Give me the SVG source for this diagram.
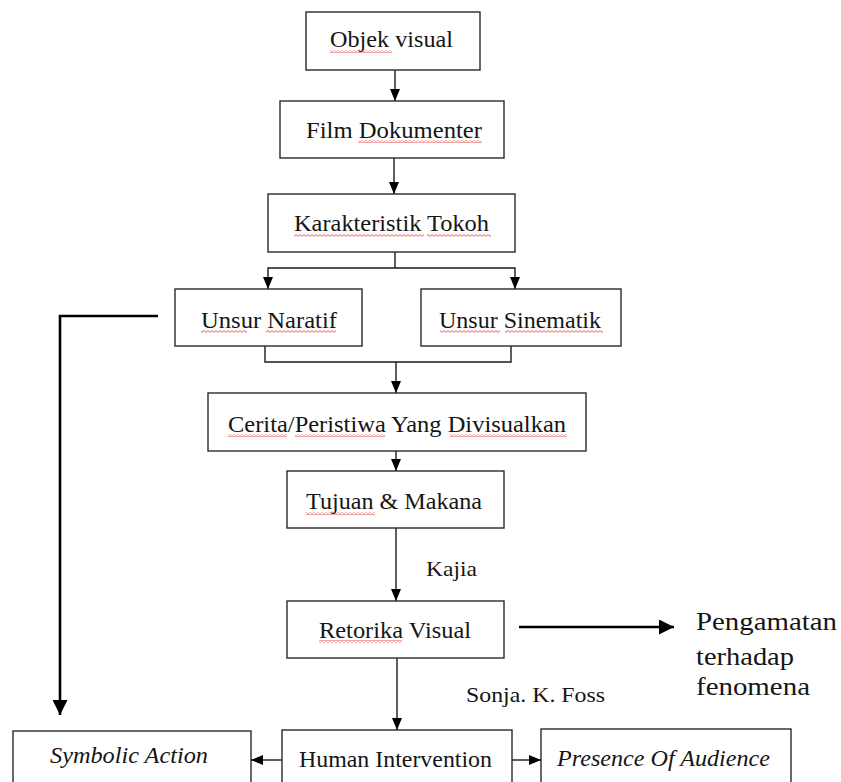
<svg xmlns="http://www.w3.org/2000/svg" width="841" height="782" viewBox="0 0 841 782">
<style>
.box{fill:#fff;stroke:#2a2a2a;stroke-width:1.4}
.t{font-family:'Liberation Serif','Times New Roman',serif;font-size:23px;fill:#151515}
.i{font-style:italic}
.sm{font-size:21px}
.big{font-size:26px}
.c{fill:none;stroke:#1a1a1a;stroke-width:1.4}
.thick{fill:none;stroke:#000;stroke-width:2.6}
.sp{fill:url(#wave)}
</style>
<defs>
<pattern id="wave" width="4" height="3" patternUnits="userSpaceOnUse">
<path d="M0,0.6 L2,2.4 L4,0.6" fill="none" stroke="#e03030" stroke-width="0.8"/>
</pattern>
<marker id="ah" markerUnits="userSpaceOnUse" markerWidth="12" markerHeight="10" refX="12" refY="5" orient="auto">
<path d="M0,0 L12,5 L0,10 z" fill="#000"/>
</marker>
<marker id="ahb" markerUnits="userSpaceOnUse" markerWidth="15" markerHeight="15" refX="15" refY="7.5" orient="auto">
<path d="M0,0 L15,7.5 L0,15 z" fill="#000"/>
</marker>
</defs>

<g id="connectors">
<path class="c" d="M395,70 V101" marker-end="url(#ah)"/>
<path class="c" d="M394,158 V194" marker-end="url(#ah)"/>
<path class="c" d="M395,252 V268"/>
<path class="c" d="M395,268 H268 V289" marker-end="url(#ah)"/>
<path class="c" d="M395,268 H515 V289" marker-end="url(#ah)"/>
<path class="c" d="M265,346 V362 H511 V346"/>
<path class="c" d="M396,362 V393" marker-end="url(#ah)"/>
<path class="c" d="M396,451 V471" marker-end="url(#ah)"/>
<path class="c" d="M396,528 V601" marker-end="url(#ah)"/>
<path class="c" d="M397,658 V730" marker-end="url(#ah)"/>
<path class="c" d="M282,760 H251" marker-end="url(#ah)"/>
<path class="c" d="M512,760 H541" marker-end="url(#ah)"/>
<path class="thick" d="M158,316 H60 V715" marker-end="url(#ahb)"/>
<path class="thick" d="M519,627 H674" marker-end="url(#ahb)"/>
</g>

<g id="objek">
<rect class="box" x="306" y="12" width="174" height="58"/>
<text class="t" x="330" y="47" textLength="123" lengthAdjust="spacingAndGlyphs">Objek visual</text>
<rect class="sp" x="330" y="50" width="62" height="3"/>
</g>
<g id="film">
<rect class="box" x="280" y="101" width="224" height="57"/>
<text class="t" x="306" y="138" textLength="176" lengthAdjust="spacingAndGlyphs">Film Dokumenter</text>
<rect class="sp" x="358" y="140" width="124" height="3"/>
</g>
<g id="karakteristik">
<rect class="box" x="268" y="194" width="247" height="58"/>
<text class="t" x="294" y="231" textLength="195" lengthAdjust="spacingAndGlyphs">Karakteristik Tokoh</text>
<rect class="sp" x="294" y="234" width="130" height="3"/>
<rect class="sp" x="427" y="234" width="64" height="3"/>
</g>
<g id="naratif">
<rect class="box" x="175" y="289" width="187" height="57"/>
<text class="t" x="201" y="328" textLength="136" lengthAdjust="spacingAndGlyphs">Unsur Naratif</text>
<rect class="sp" x="201" y="330" width="46" height="3"/>
<rect class="sp" x="266" y="330" width="70" height="3"/>
</g>
<g id="sinematik">
<rect class="box" x="421" y="289" width="200" height="57"/>
<text class="t" x="439" y="328" textLength="162" lengthAdjust="spacingAndGlyphs">Unsur Sinematik</text>
<rect class="sp" x="440" y="330" width="60" height="3"/>
<rect class="sp" x="505" y="330" width="98" height="3"/>
</g>
<g id="cerita">
<rect class="box" x="208" y="393" width="378" height="58"/>
<text class="t" x="228" y="432" textLength="338" lengthAdjust="spacingAndGlyphs">Cerita/Peristiwa Yang Divisualkan</text>
<rect class="sp" x="228" y="434" width="59" height="3"/>
<rect class="sp" x="295" y="434" width="90" height="3"/>
<rect class="sp" x="450" y="434" width="117" height="3"/>
</g>
<g id="tujuan">
<rect class="box" x="287" y="471" width="217" height="57"/>
<text class="t" x="306" y="509" textLength="176" lengthAdjust="spacingAndGlyphs">Tujuan &amp; Makana</text>
<rect class="sp" x="306" y="512" width="69" height="3"/>
</g>
<g id="kajia">
<text class="t sm" x="426" y="576" textLength="51" lengthAdjust="spacingAndGlyphs">Kajia</text>
</g>
<g id="retorika">
<rect class="box" x="287" y="601" width="217" height="57"/>
<text class="t" x="319" y="638" textLength="152" lengthAdjust="spacingAndGlyphs">Retorika Visual</text>
<rect class="sp" x="319" y="640" width="83" height="3"/>
</g>
<g id="pengamatan">
<text class="t big" x="696" y="630" textLength="141" lengthAdjust="spacingAndGlyphs">Pengamatan</text>
<text class="t big" x="696" y="665" textLength="98" lengthAdjust="spacingAndGlyphs">terhadap</text>
<text class="t big" x="696" y="695" textLength="114" lengthAdjust="spacingAndGlyphs">fenomena</text>
</g>
<g id="sonja">
<text class="t sm" x="466" y="702" textLength="139" lengthAdjust="spacingAndGlyphs">Sonja. K. Foss</text>
</g>
<g id="symbolic">
<rect class="box" x="13" y="731" width="238" height="60"/>
<text class="t i" x="50" y="763" textLength="158" lengthAdjust="spacingAndGlyphs">Symbolic Action</text>
</g>
<g id="human">
<rect class="box" x="282" y="730" width="230" height="60"/>
<text class="t" x="299" y="767" textLength="193" lengthAdjust="spacingAndGlyphs">Human Intervention</text>
</g>
<g id="presence">
<rect class="box" x="541" y="729" width="250" height="60"/>
<text class="t i" x="557" y="766" textLength="213" lengthAdjust="spacingAndGlyphs">Presence Of Audience</text>
</g>
</svg>
